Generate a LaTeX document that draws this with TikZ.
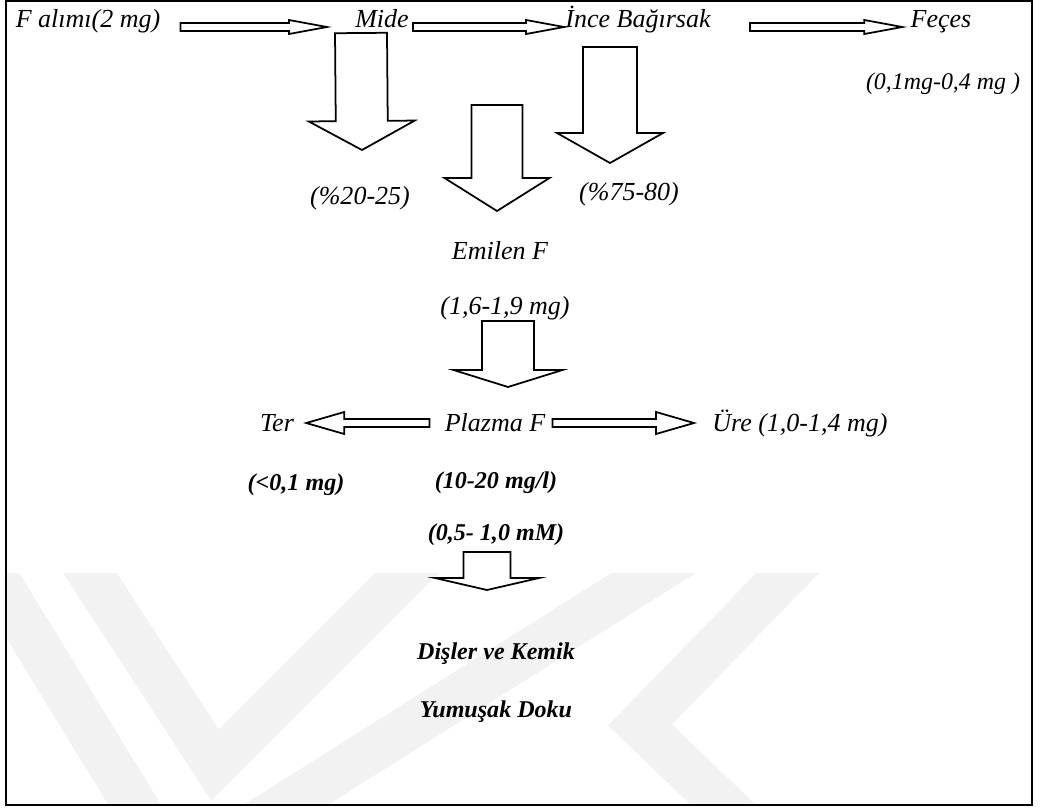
\documentclass[tikz,border=0pt]{standalone}
\usepackage{fontspec}
\setmainfont{Liberation Serif}
\usetikzlibrary{calc}

% hollow block arrow from #1 to #2: shaft half width #3, head half width #4, head length #5 (px)
\newcommand{\blockarrow}[5]{%
  \path let \p1=(#1), \p2=(#2) in
    \pgfextra{%
      \pgfmathsetmacro\barang{atan2((\y2)-(\y1),(\x2)-(\x1))}%
      \pgfmathsetmacro\barlen{veclen((\x2)-(\x1),(\y2)-(\y1))}%
      \xdef\barang{\barang}\xdef\barlen{\barlen}%
      \xdef\barx{\x1}\xdef\bary{\y1}};
  \draw[hollow,shift={(\barx,\bary)},rotate=\barang]
    (0pt,#3*0.569pt) -- (\barlen pt-#5*0.569pt,#3*0.569pt)
    -- (\barlen pt-#5*0.569pt,#4*0.569pt) -- (\barlen pt,0pt)
    -- (\barlen pt-#5*0.569pt,-#4*0.569pt) -- (\barlen pt-#5*0.569pt,-#3*0.569pt)
    -- (0pt,-#3*0.569pt) -- cycle;
}

\begin{document}
\begin{tikzpicture}[x=0.02cm,y=-0.02cm,
  lbl/.style={font=\itshape\fontsize{14.8}{17}\selectfont,inner sep=0pt,anchor=base},
  boldlbl/.style={font=\bfseries\itshape\fontsize{13.7}{16}\selectfont,inner sep=0pt,anchor=base},
  hollow/.style={draw,line width=1pt,fill=white,line join=miter},
  wmark/.style={draw=black!5,line width=0.9cm,line join=miter}]

\useasboundingbox (0,0) rectangle (1042,809);

% watermark
\begin{scope}
  \clip (6,573) rectangle (1032,805);
  \draw[wmark] (-15,560) -- (150,830);
  \draw[wmark] (75,550) -- (215,765) -- (430,550);
  \draw[wmark] (230,840) -- (690,550);
  \draw[wmark] (810,550) -- (640,725) -- (760,840);
\end{scope}

\draw[line width=1.4pt] (6,1) rectangle (1032,805);

% top row
\node[lbl] (alim) at (88,27) {F alımı(2 mg)};
\node[lbl] (mide) at (382,27) {Mide};
\node[lbl] (ince) at (638,27) {İnce Bağırsak};
\node[lbl] (feces) at (941,27) {Feçes};
\node[lbl,font=\itshape\fontsize{13.6}{16}\selectfont] (fecesmg) at (943,89) {(0,1mg-0,4 mg )};
\node[lbl] (mideyuzde) at (360,204) {(\%20-25)};
\node[lbl] (inceyuzde) at (629,200) {(\%75-80)};

% absorbed part
\node[lbl] (emilen) at (500,259) {Emilen F};
\node[lbl] (emilenmg) at (505,314) {(1,6-1,9 mg)};
\node[lbl] (ter) at (277,431) {Ter};
\node[lbl] (plazma) at (495,431) {Plazma F};
\node[lbl] (ure) at (800,431) {Üre (1,0-1,4 mg)};

\node[boldlbl] (termg) at (296,490) {(<0,1 mg)};
\node[boldlbl] (plazmamg) at (496,488) {(10-20 mg/l)};
\node[boldlbl] (plazmamm) at (496,540) {(0,5- 1,0 mM)};
\node[boldlbl] (dis) at (496,659) {Dişler ve Kemik};
\node[boldlbl] (doku) at (496,717) {Yumuşak Doku};

\coordinate (emilim) at (497,105);

% arrows
\blockarrow{$(alim.base east)+(20,0)$}{$(mide.base west)+(-28,0)$}{4}{7}{38}
\blockarrow{$(mide.base east)+(4,0)$}{$(ince.base west)+(-1,0)$}{4}{7}{38}
\blockarrow{$(ince.base east)+(39,0)$}{$(feces.base west)+(-8,0)$}{4}{7}{38}
\blockarrow{$(mide.base)+(-21,6)$}{$(mideyuzde.base)+(2,-54)$}{26}{53}{29}
\blockarrow{emilim}{$(emilen.base)+(-3,-48)$}{25.5}{52.5}{33}
\blockarrow{$(ince.base)+(-28,20)$}{$(inceyuzde.base)+(-19,-37)$}{27}{53}{30}
\blockarrow{$(emilenmg.base)+(3,7)$}{$(plazma.base)+(13,-44)$}{26}{54.5}{17}
\blockarrow{$(plazma.base west)+(-15,-8)$}{$(ter.base east)+(12,-8)$}{4}{11}{38}
\blockarrow{$(plazma.base east)+(7,-8)$}{$(ure.base west)+(-18,-8)$}{4}{11}{38}
\blockarrow{$(plazmamm.base)+(-9,12)$}{$(dis.base)+(-9,-69)$}{23.5}{52}{12}
\end{tikzpicture}
\end{document}
